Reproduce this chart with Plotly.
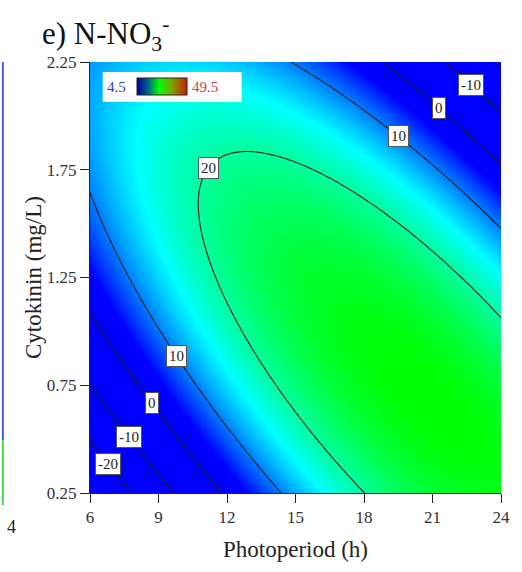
import numpy as np
import plotly.graph_objects as go

# Fitted second-order response surface for N-NO3- (photoperiod x, cytokinin y)
#   z = b0 + b1*x + b2*y + b11*x^2 + b22*y^2 + b12*x*y
b0 = -92.831638
b1 = 9.212203
b2 = 70.364342
b11 = -0.180840
b22 = -13.732455
b12 = -2.483767

photoperiod_range = [6, 24]
cytokinin_range = [0.25, 2.25]
x_ticks = [6, 9, 12, 15, 18, 21, 24]
y_ticks = [0.25, 0.75, 1.25, 1.75, 2.25]
contour_levels = [-20, -10, 0, 10, 20]
scale_min, scale_max = 4.5, 49.5

# contour label placement: (level, photoperiod, branch of the curve)
label_spots = [(-10, 22.7, "hi"), (0, 21.3, "hi"), (10, 19.5, "hi"), (20, 11.19, "hi"),
               (10, 9.77, "lo"), (0, 8.7, "lo"), (-10, 7.7, "lo"), (-20, 6.8, "lo")]


def surface(x, y):
    return b0 + b1 * x + b2 * y + b11 * x * x + b22 * y * y + b12 * x * y


def level_y(level, x, branch):
    # solve b22*y^2 + (b2 + b12*x)*y + (b0 + b1*x + b11*x^2 - level) = 0
    roots = np.roots([b22, b2 + b12 * x, b0 + b1 * x + b11 * x * x - level])
    roots = sorted(r.real for r in roots if abs(r.imag) < 1e-9)
    inside = [r for r in roots if cytokinin_range[0] <= r <= cytokinin_range[1]]
    pool = inside or roots
    return pool[-1] if branch == "hi" else pool[0]


xs = np.linspace(photoperiod_range[0], photoperiod_range[1], 241)
ys = np.linspace(cytokinin_range[0], cytokinin_range[1], 241)
X, Y = np.meshgrid(xs, ys)
Z = surface(X, Y)

SERIF = "Liberation Serif, Times New Roman, serif"

surface_scale = [[0.0, "#0000ff"], [0.25, "#00ffff"], [0.5, "#00ff00"],
                 [0.75, "#ffff00"], [1.0, "#ff0000"]]
key_scale = [[0.0, "#00008c"], [0.2, "#005a8c"], [0.45, "#00ff00"],
             [0.7, "#80a000"], [1.0, "#c81e00"]]

fig = go.Figure()
fig.add_trace(go.Contour(
    x=xs, y=ys, z=Z, zmin=scale_min, zmax=scale_max, zauto=False,
    colorscale=surface_scale, showscale=False, hoverinfo="skip",
    contours=dict(start=contour_levels[0], end=contour_levels[-1],
                  size=contour_levels[1] - contour_levels[0],
                  coloring="heatmap", showlabels=False),
    line=dict(color="#1c1c1c", width=1.1),
))

# colour key drawn from an empty marker trace
fig.add_trace(go.Scatter(
    x=[None], y=[None], mode="markers", hoverinfo="skip",
    marker=dict(color=[scale_min], cmin=scale_min, cmax=scale_max, colorscale=key_scale,
                showscale=True,
                colorbar=dict(orientation="h", x=0.174, xanchor="center", y=0.943,
                              yanchor="middle", len=50, lenmode="pixels", thickness=17,
                              xpad=0, ypad=0, outlinecolor="#222", outlinewidth=1,
                              showticklabels=False, ticks="")),
))

for level, xp, branch in label_spots:
    fig.add_annotation(x=xp, y=level_y(level, xp, branch), text=str(level),
                       xanchor="center", yanchor="middle",
                       showarrow=False, bgcolor="white", bordercolor="#555",
                       borderwidth=1, borderpad=2,
                       font=dict(family=SERIF, size=15, color="#222"))

fig.add_shape(type="rect", xref="paper", yref="paper", x0=0.031, x1=0.369,
              y0=0.907, y1=0.977, fillcolor="white", line=dict(width=0), layer="above")
fig.add_annotation(xref="paper", yref="paper", x=0.064, y=0.943, xanchor="center",
                   yanchor="middle", text=str(scale_min), showarrow=False,
                   font=dict(family=SERIF, size=15, color="#3838c8"))
fig.add_annotation(xref="paper", yref="paper", x=0.281, y=0.943, xanchor="center",
                   yanchor="middle", text=str(scale_max), showarrow=False,
                   font=dict(family=SERIF, size=15, color="#d23c3c"))

fig.add_annotation(xref="paper", yref="paper", x=-0.121, y=1.066, xanchor="left",
                   yanchor="middle", text="e) N-NO<sub>3</sub><sup>-</sup>", showarrow=False,
                   font=dict(family=SERIF, size=31, color="#111"))
fig.add_annotation(xref="paper", yref="paper", x=0.5, y=-0.13, xanchor="center",
                   yanchor="middle", text="Photoperiod (h)", showarrow=False,
                   font=dict(family=SERIF, size=23, color="#222"))
fig.add_annotation(xref="paper", yref="paper", x=-0.136, y=0.499, xanchor="center",
                   yanchor="middle", textangle=-90, text="Cytokinin (mg/L)",
                   showarrow=False, font=dict(family=SERIF, size=23, color="#222"))

# edge of the neighbouring panel
fig.add_shape(type="line", xref="paper", yref="paper", x0=-0.2119, x1=-0.2119,
              y0=1.0, y1=0.123, line=dict(color="#1a2ee0", width=1.5))
fig.add_shape(type="line", xref="paper", yref="paper", x0=-0.2119, x1=-0.2119,
              y0=0.123, y1=-0.028, line=dict(color="#22cc22", width=1.5))
fig.add_annotation(xref="paper", yref="paper", x=-0.19, y=-0.079, xanchor="center",
                   yanchor="middle", text="4", showarrow=False,
                   font=dict(family=SERIF, size=18, color="#222"))

axis_common = dict(showline=True, linecolor="#222", linewidth=1, ticks="outside",
                   ticklen=9, tickcolor="#222", showgrid=False, zeroline=False,
                   tickfont=dict(family=SERIF, size=17, color="#333"))
fig.update_xaxes(range=photoperiod_range, tickvals=x_ticks,
                 ticktext=[str(v) for v in x_ticks], **axis_common)
fig.update_yaxes(range=cytokinin_range, tickvals=y_ticks,
                 ticktext=[f"{v:.2f}" for v in y_ticks], **axis_common)

fig.update_layout(width=522, height=572, margin=dict(l=90, r=12, t=62, b=79),
                  paper_bgcolor="white", plot_bgcolor="white", showlegend=False)
fig.write_html("out.html")
